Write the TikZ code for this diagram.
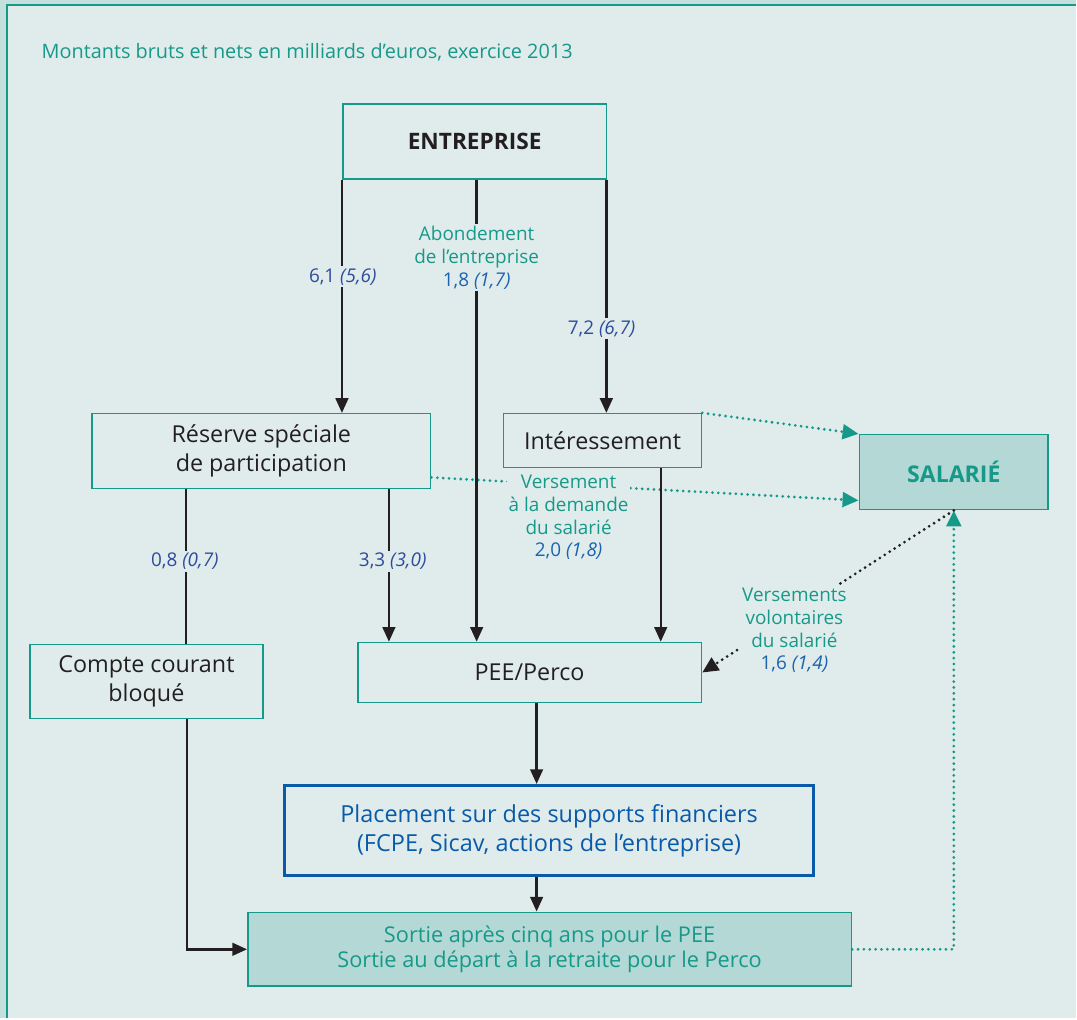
\documentclass[tikz,border=0pt]{standalone}
\usepackage{fontspec}
\setmainfont{Open Sans}
\usetikzlibrary{arrows.meta,calc}
\definecolor{bgin}{HTML}{DFECEB}
\definecolor{bgout}{HTML}{C4E0DC}
\definecolor{tealc}{HTML}{17998A}
\definecolor{tealfill}{HTML}{B3D8D5}
\definecolor{navy}{HTML}{2E4B9B}
\definecolor{bluec}{HTML}{1C62B0}
\definecolor{pblue}{HTML}{0A5AAA}
\definecolor{ink}{HTML}{231F20}
\begin{document}
\begin{tikzpicture}[x=0.75pt,y=-0.75pt,
  box/.style={draw=tealc, line width=1.2pt, inner sep=0pt, align=center, text=ink,
    font=\fontsize{17.5}{21.75}\selectfont},
  arr/.style={draw=ink, line width=1.8pt, -{Triangle[length=11pt,width=9.5pt]}},
  plain/.style={draw=ink, line width=1.8pt},
  tdot/.style={draw=tealc, line width=2.3pt, line cap=round, dash pattern=on 0pt off 4.4pt,
    -{Triangle[length=12pt,width=11pt,line cap=butt]}},
  bdot/.style={draw=ink, line width=2.3pt, line cap=round, dash pattern=on 0pt off 4.4pt,
    -{Triangle[length=12pt,width=11pt,line cap=butt]}},
  lab/.style={fill=bgin, inner sep=1.5pt, align=center, text=tealc,
    font=\fontsize{14.2}{17}\selectfont},
  num/.style={fill=bgin, inner sep=1.5pt, text=navy, font=\fontsize{14.2}{17}\selectfont}]

% background
\fill[bgout] (0,0) rectangle (1077,1019);
\fill[bgin] (7,5) rectangle (1077,1019);
\draw[tealc, line width=1.2pt] (7,1019) -- (7,5) -- (1077,5);
\useasboundingbox (0,0) rectangle (1077,1019);

\node[anchor=west, text=tealc, font=\fontsize{14.9}{17}\selectfont] (title) at (37,52)
  {Montants bruts et nets en milliards d’euros, exercice 2013};

% boxes
\node[box, minimum width=198pt, minimum height=56.25pt, font=\fontsize{17}{20}\selectfont\bfseries] (ent) at (475,141.5) {ENTREPRISE};
\node[box, minimum width=254.25pt, minimum height=56.25pt] (res) at (261.5,451.5) {Réserve spéciale\\de participation};
\node[box, minimum width=148.5pt, minimum height=40.5pt] (int) at (603,441) {Intéressement};
\node[box, fill=tealfill, text=tealc, minimum width=141.75pt, minimum height=56.25pt, font=\fontsize{17.3}{20}\selectfont\bfseries] (sal) at (954.5,472.5) {SALARIÉ};
\node[box, minimum width=174.75pt, minimum height=55.5pt] (cpt) at (146.5,682) {Compte courant\\bloqué};
\node[box, minimum width=258pt, minimum height=45pt] (pee) at (530,673) {PEE/Perco};
\node[box, draw=pblue, line width=2.2pt, text=pblue, minimum width=396.75pt, minimum height=67.5pt, font=\fontsize{17.6}{21.75}\selectfont] (pla) at (549.5,831) {Placement sur des supports financiers\\(FCPE, Sicav, actions de l’entreprise)};
\node[box, fill=tealfill, text=tealc, minimum width=453pt, minimum height=55.5pt, font=\fontsize{16.3}{19}\selectfont] (sor) at (550,950) {Sortie après cinq ans pour le PEE\\Sortie au départ à la retraite pour le Perco};

% dotted connectors
\draw[tdot] (int.north east) -- (sal.north west);
\draw[tdot] ($(res.south east)+(0,-12)$) -- ($(sal.south west)+(0,-10)$);
\draw[tdot] (sor.east) -| (sal.south);
\draw[bdot] (sal.south) -- (pee.east);

% solid connectors
\draw[arr] (ent.south west) -- (ent.south west |- res.north);
\draw[arr] ($(ent.south)+(2,0)$) -- ($(ent.south |- pee.north)+(2,0)$);
\draw[arr] ($(ent.south east)+(-1,0)$) -- ($(ent.south east |- int.north)+(-1,0)$);
\draw[plain] ($(res.south west)+(95,0)$) -- ($(res.south west |- cpt.north)+(95,0)$);
\draw[arr] ($(res.south west)+(298,0)$) -- ($(res.south west |- pee.north)+(298,0)$);
\draw[arr] ($(int.south west)+(158,0)$) -- ($(int.south west |- pee.north)+(158,0)$);
\draw[arr] ($(pee.south)+(7,0)$) -- ($(pee.south |- pla.north)+(7,0)$);
\draw[arr] ($(pla.south)+(-12.5,0)$) -- ($(pla.south |- sor.north)+(-12.5,0)$);
\draw[arr] ($(cpt.south)+(40.5,0)$) |- (sor.west);

% labels
\node[num] (l61) at (343,277) {6,1 \textit{(5,6)}};
\node[lab] (labo) at (477,258) {Abondement\\de l’entreprise\\\textcolor{bluec}{1,8 \textit{(1,7)}}};
\node[num] (l72) at (602,329) {7,2 \textit{(6,7)}};
\node[num] (l08) at (185,562) {0,8 \textit{(0,7)}};
\node[num] (l33) at (393,562) {3,3 \textit{(3,0)}};
\node[lab] (lver) at (569,518) {Versement\\à la demande\\du salarié\\\textcolor{bluec}{2,0 \textit{(1,8)}}};
\node[lab, inner sep=2.5pt] (lvol) at (795,631) {Versements\\volontaires\\du salarié\\\textcolor{bluec}{1,6 \textit{(1,4)}}};
\end{tikzpicture}
\end{document}
